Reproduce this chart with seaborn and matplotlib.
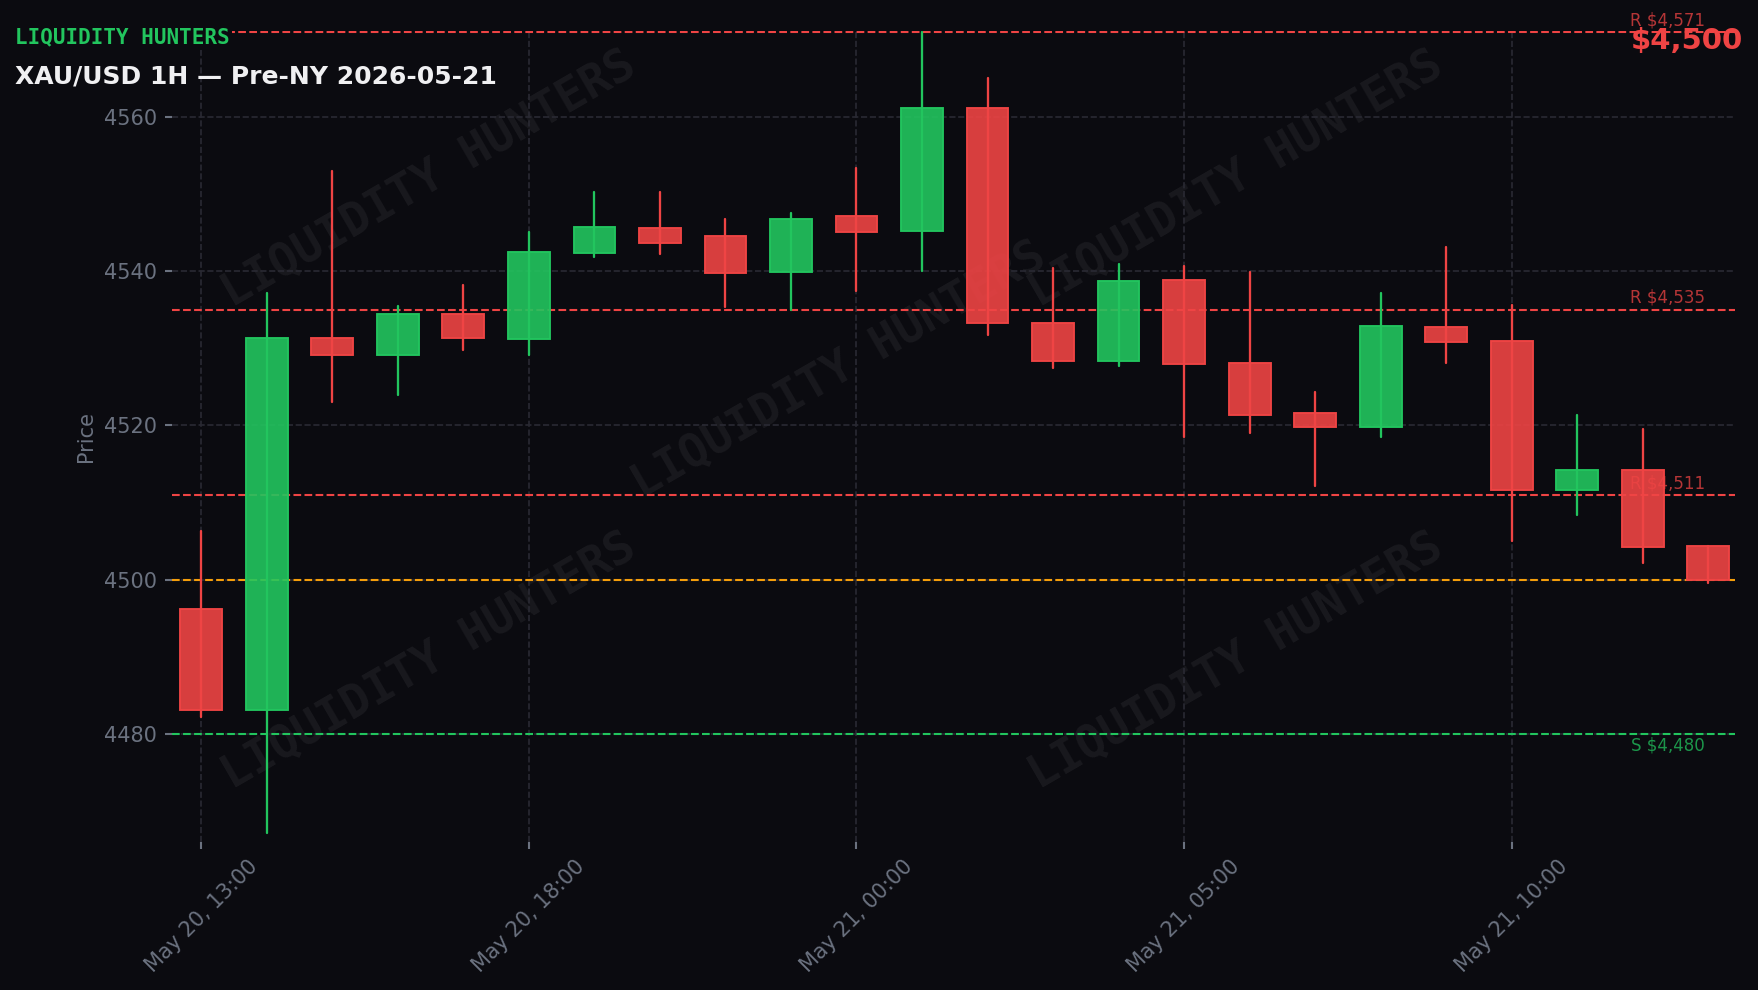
import matplotlib
matplotlib.use("Agg")
import matplotlib.pyplot as plt
import numpy as np
import pandas as pd
import seaborn as sns

# ---------------- data ----------------
times = ["2026-05-20 13:00", "2026-05-20 14:00", "2026-05-20 15:00", "2026-05-20 16:00",
         "2026-05-20 17:00", "2026-05-20 18:00", "2026-05-20 19:00", "2026-05-20 20:00",
         "2026-05-20 21:00", "2026-05-20 22:00", "2026-05-21 00:00", "2026-05-21 01:00",
         "2026-05-21 02:00", "2026-05-21 03:00", "2026-05-21 04:00", "2026-05-21 05:00",
         "2026-05-21 06:00", "2026-05-21 07:00", "2026-05-21 08:00", "2026-05-21 09:00",
         "2026-05-21 10:00", "2026-05-21 11:00", "2026-05-21 12:00", "2026-05-21 13:00"]
opens = [4496.2, 4483.2, 4531.3, 4529.1, 4534.5, 4531.2, 4542.4, 4545.6, 4544.6, 4539.9,
         4547.1, 4545.2, 4561.1, 4533.3, 4528.3, 4538.8, 4528.1, 4521.6, 4519.8, 4532.8,
         4530.9, 4511.7, 4514.2, 4504.4]
highs = [4506.3, 4537.2, 4552.9, 4535.5, 4538.2, 4545.0, 4550.3, 4550.3, 4546.8, 4547.5,
         4553.4, 4571.0, 4565.0, 4540.4, 4540.9, 4540.7, 4539.9, 4524.4, 4537.1, 4543.1,
         4535.6, 4521.3, 4519.5, 4504.4]
lows = [4482.2, 4467.2, 4523.1, 4524.0, 4529.8, 4529.1, 4541.8, 4542.2, 4535.3, 4535.0,
        4537.4, 4540.0, 4531.7, 4527.4, 4527.7, 4518.5, 4519.0, 4512.2, 4518.5, 4528.1,
        4505.0, 4508.4, 4502.2, 4499.6]
closes = [4483.2, 4531.3, 4529.1, 4534.5, 4531.3, 4542.5, 4545.7, 4543.6, 4539.8, 4546.8,
          4545.1, 4561.1, 4533.3, 4528.3, 4538.7, 4528.0, 4521.4, 4519.8, 4532.9, 4530.8,
          4511.7, 4514.2, 4504.3, 4500.0]
level_prices = [4571, 4535, 4511, 4480]
level_kinds = ["R", "R", "R", "S"]
current_price = 4500
tick_positions = [0, 5, 10, 15, 20]
tick_labels = ["May 20, 13:00", "May 20, 18:00", "May 21, 00:00", "May 21, 05:00", "May 21, 10:00"]
y_ticks = [4480, 4500, 4520, 4540, 4560]
brand = "LIQUIDITY HUNTERS"
title = "XAU/USD 1H — Pre-NY 2026-05-21"

# ---------------- style ----------------
BG = "#0b0b10"
GREEN = "#22c55e"
RED = "#ef4444"
ORANGE = "#f59e0b"
MUTED = "#6b7280"
GRID = "#2a2a33"

sns.set_theme(style="dark", rc={
    "figure.facecolor": BG, "axes.facecolor": BG, "savefig.facecolor": BG,
    "axes.edgecolor": BG, "text.color": MUTED, "axes.labelcolor": MUTED,
    "xtick.color": MUTED, "ytick.color": MUTED,
})
plt.rcParams["font.family"] = ["DejaVu Sans"]

fig = plt.figure(figsize=(11.72, 6.6), dpi=150)
ax = fig.add_axes([0.0978, 0.1495, 0.8891, 0.8196])
ax.set_facecolor(BG)

df = pd.DataFrame({"idx": np.arange(len(times)), "time": times, "open": opens,
                   "high": highs, "low": lows, "close": closes})
df["up"] = df["close"] >= df["open"]

# wicks (seaborn lineplot, one unit per candle)
wicks = pd.concat([df.assign(price=df["low"]), df.assign(price=df["high"])], ignore_index=True)
sns.lineplot(data=wicks, x="idx", y="price", units="idx", estimator=None, sort=False,
             hue="up", palette={True: GREEN, False: RED}, linewidth=1.1,
             legend=False, ax=ax, zorder=2)

# bodies
cols = [GREEN if u else RED for u in df["up"]]
bottoms = np.minimum(df["open"], df["close"])
heights = np.abs(df["close"] - df["open"])
ax.bar(df["idx"], heights, bottom=bottoms, width=0.64, color=cols, alpha=0.9,
       edgecolor="none", zorder=3)
ax.bar(df["idx"], heights, bottom=bottoms, width=0.64, facecolor="none",
       edgecolor=cols, linewidth=0.9, zorder=3.1)

# levels
for p, k in zip(level_prices, level_kinds):
    c = RED if k == "R" else GREEN
    ax.axhline(p, color=c, linestyle="--", linewidth=1.0, zorder=1.5)
    ax.text(len(times) - 1.05, p + (0.35 if k == "R" else -0.35), f"{k} ${p:,}",
            ha="right", va="bottom" if k == "R" else "top", color=c, alpha=0.75,
            fontsize=8, zorder=4)
ax.axhline(current_price, color=ORANGE, linestyle="--", linewidth=1.0, zorder=1.5)

# axes
ax.set_xlim(-0.45, 23.41)
ax.set_ylim(4466.05, 4571.15)
ax.set_xticks(tick_positions)
ax.set_xticklabels(tick_labels, rotation=45, ha="center", fontsize=10, color=MUTED)
ax.set_yticks(y_ticks)
ax.tick_params(axis="y", labelsize=10, colors=MUTED, length=3.5, width=1.0, left=True)
ax.tick_params(axis="x", colors=MUTED, length=3.5, width=1.0, bottom=True)
ax.set_xlabel("")
ax.set_ylabel("Price", fontsize=10, color=MUTED)
ax.grid(True, color=GRID, linestyle="--", linewidth=0.8)
ax.set_axisbelow(True)
for s in ax.spines.values():
    s.set_visible(False)

# watermarks
wm_pos = [(0.244, 0.819), (0.703, 0.819), (0.477, 0.626), (0.244, 0.332), (0.703, 0.332)]
for (x, y) in wm_pos:
    ax.text(x, y, brand, transform=fig.transFigure, rotation=30, ha="center", va="center",
            rotation_mode="anchor", family="DejaVu Sans Mono", weight="bold", fontsize=22,
            color="white", alpha=0.06, zorder=0.5, clip_on=False)

# header texts
fig.text(0.0083, 0.9626, brand, family="DejaVu Sans Mono", weight="bold", fontsize=10,
         color=GREEN, va="center", ha="left",
         bbox=dict(facecolor=BG, edgecolor="none", pad=1.5), zorder=5)
fig.text(0.0083, 0.923, title, weight="bold", fontsize=12, color="#f0f0f2",
         va="center", ha="left", zorder=5)
fig.text(0.9915, 0.9585, f"${current_price:,}", weight="bold", fontsize=14, color=RED,
         va="center", ha="right", zorder=5)

fig.savefig("out.png", dpi=150, facecolor=BG)
